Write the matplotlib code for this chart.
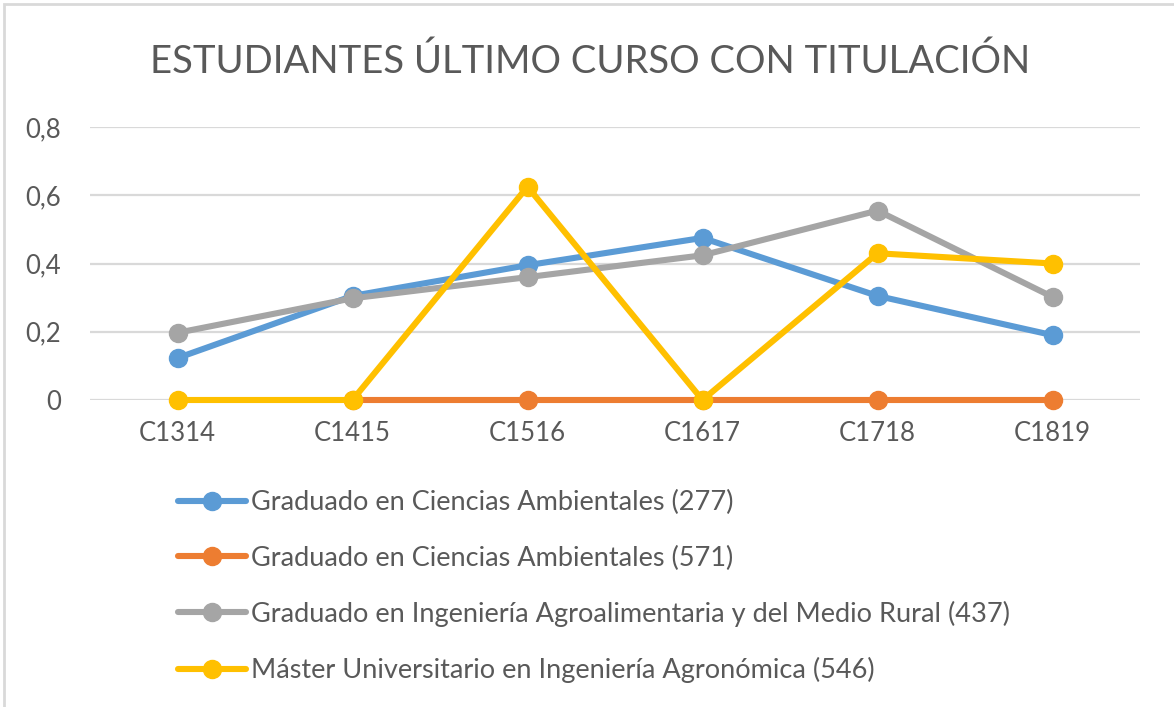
import numpy as np
import matplotlib; matplotlib.use('Agg')
import matplotlib.pyplot as plt
from matplotlib.patches import Rectangle

# données
cursos=['C1314','C1415','C1516','C1617','C1718','C1819']
amb_277=[0.123,0.305,0.395,0.475,0.305,0.19]
amb_571=[np.nan,0,0,0,0,0]
agro_437=[0.197,0.298,0.36,0.424,0.555,0.302]
master_546=[0,0,0.625,0,0.43,0.4]
series_labels=['Graduado en Ciencias Ambientales (277)','Graduado en Ciencias Ambientales (571)',
               'Graduado en Ingeniería Agroalimentaria y del Medio Rural (437)',
               'Máster Universitario en Ingeniería Agronómica (546)']
colors=['#5B9BD5','#ED7D31','#A5A5A5','#FFC000']
yticks=[0,0.2,0.4,0.6,0.8]
ytick_labels=['0','0,2','0,4','0,6','0,8']

plt.rcParams['font.family']=['Lato','DejaVu Sans']
W,H=1174,707
fig=plt.figure(figsize=(W/100,H/100),dpi=100)
ax=fig.add_axes([90/W,1-400/H,(1140-90)/W,(400-127)/H])
x=np.arange(len(cursos))
for vals,lab,col in zip([amb_277,amb_571,agro_437,master_546],series_labels,colors):
    ax.plot(x,vals,color=col,lw=4.4,marker='o',ms=13,label=lab,solid_capstyle='round',
            zorder=3,clip_on=False)
ax.set_xlim(-0.5,len(cursos)-0.5); ax.set_ylim(0,0.8)
ax.set_yticks(yticks); ax.set_yticklabels(ytick_labels)
ax.set_xticks(x); ax.set_xticklabels(cursos)
ax.grid(axis='y',color='#D9D9D9',lw=1.6,zorder=0); ax.set_axisbelow(True)
for s in ax.spines.values(): s.set_visible(False)
ax.tick_params(length=0,labelsize=18.5,colors='#595959')
ax.tick_params(axis='y',pad=21); ax.tick_params(axis='x',pad=15)

fig.text(590/W,1-62/H,'ESTUDIANTES ÚLTIMO CURSO CON TITULACIÓN',ha='center',va='center',
         fontsize=27.5,color='#595959')
leg=fig.legend(loc='upper left',bbox_to_anchor=(178/W,1-490/H),frameon=False,fontsize=19.5,
               handlelength=2.5,handletextpad=0.18,labelspacing=1.12,labelcolor='#595959',
               borderpad=0,borderaxespad=0)
fig.patches.append(Rectangle((4/W,-0.1),1.2,1-4/H+0.1,transform=fig.transFigure,fill=False,
                             edgecolor='#D9D9D9',lw=2))
fig.savefig('out.png',dpi=100)
